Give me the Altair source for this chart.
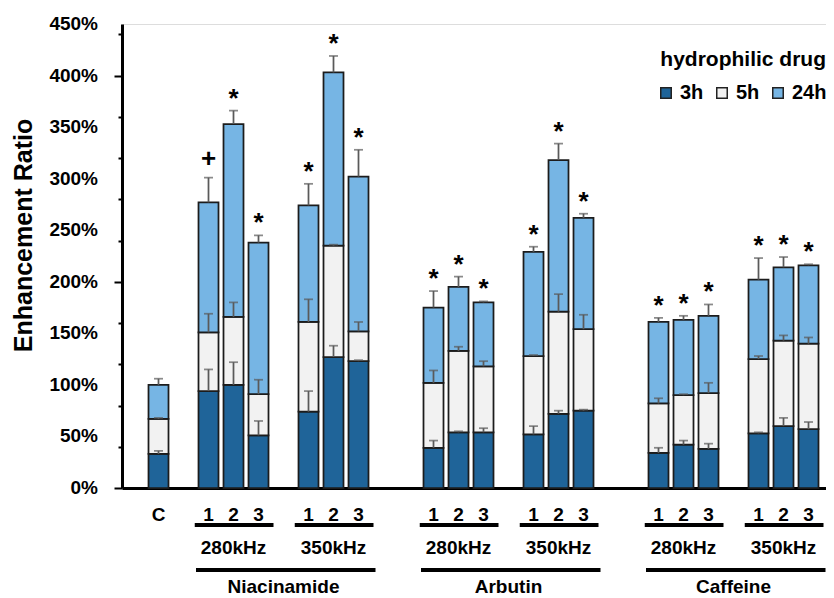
import altair as alt
import pandas as pd

# ---------------- data ----------------
bar_labels = ["C", "1", "2", "3", "1", "2", "3", "1", "2", "3", "1", "2", "3",
              "1", "2", "3", "1", "2", "3"]
bar_slots = [0, 2, 3, 4, 6, 7, 8, 11, 12, 13, 15, 16, 17, 20, 21, 22, 24, 25, 26]

periods = ["3h", "5h", "24h"]
period_colors = ["#1f6499", "#f2f2f2", "#76b5e4"]

# cumulative top of each stacked segment (%)
top_3h = [33, 94, 100, 51, 74, 127, 123, 39, 54, 54, 52, 72, 75, 34, 42, 38, 53, 60, 57]
top_5h = [67, 151, 166, 91, 161, 235, 152, 102, 133, 118, 128, 171, 154, 82, 90, 92, 125, 143, 140]
top_24h = [100, 277, 353, 238, 274, 403, 302, 175, 195, 180, 229, 318, 262, 161, 163, 167, 202, 214, 216]

# error bar lengths (%)
sd_3h = [3, 21, 22, 14, 20, 11, 1, 7, 1, 4, 8, 3, 1, 5, 4, 5, 1, 8, 7]
sd_5h = [1, 18, 14, 14, 22, 1, 9, 12, 4, 5, 1, 17, 14, 5, 1, 10, 3, 5, 6]
sd_24h = [6, 24, 13, 7, 21, 16, 26, 16, 10, 1, 5, 16, 4, 4, 4, 11, 21, 10, 1]

markers = ["", "+", "*", "*", "*", "*", "*", "*", "*", "*", "*", "*", "*",
           "*", "*", "*", "*", "*", "*"]

y_tick_labels = [0, 50, 100, 150, 200, 250, 300, 350, 400, 450]
y_minor_ticks = list(range(0, 451, 10))

freq_labels = ["280kHz", "350kHz", "280kHz", "350kHz", "280kHz", "350kHz"]
freq_first_slot = [2, 6, 11, 15, 20, 24]
freq_last_slot = [4, 8, 13, 17, 22, 26]

drug_labels = ["Niacinamide", "Arbutin", "Caffeine"]
drug_first_slot = [2, 11, 20]
drug_last_slot = [8, 17, 26]

FONT = "Liberation Sans"

# ---------------- tables ----------------
rows, err_rows = [], []
tops = [top_3h, top_5h, top_24h]
sds = [sd_3h, sd_5h, sd_24h]
for i, s in enumerate(bar_slots):
    base = 0
    for p, t, sd in zip(periods, tops, sds):
        rows.append({"slot": s, "period": p, "y0": base, "y1": t[i]})
        err_rows.append({"slot": s, "period": p, "top": t[i], "etop": t[i] + sd[i]})
        base = t[i]
bars_df = pd.DataFrame(rows)
err_df = pd.DataFrame(err_rows)

mark_df = pd.DataFrame({
    "slot": bar_slots,
    "marker": markers,
    "etop": [t + s for t, s in zip(top_24h, sd_24h)],
})
xlab_df = pd.DataFrame({"slot": bar_slots, "label": bar_labels})
ylab_df = pd.DataFrame({"v": y_tick_labels,
                        "label": ["%d%%" % v for v in y_tick_labels]})

freq_df = pd.DataFrame({
    "label": freq_labels,
    "first": freq_first_slot,
    "last": freq_last_slot,
})
freq_df["center"] = (freq_df["first"] + freq_df["last"]) / 2
freq_df["ul0"] = freq_df["first"] - 0.55
freq_df["ul1"] = freq_df["first"] + 2.6

drug_df = pd.DataFrame({
    "label": drug_labels,
    "first": drug_first_slot,
    "last": drug_last_slot,
})
drug_df["center"] = (drug_df["first"] + drug_df["last"]) / 2
drug_df["ul0"] = drug_df["first"] - 0.5
drug_df["ul1"] = drug_df["last"] + 0.68

# ---------------- scales / axes ----------------
x_scale = alt.Scale(domain=[-1.46, 26.7], nice=False, zero=False, padding=0)
y_scale = alt.Scale(domain=[0, 450], nice=False, padding=0)

x_axis = alt.Axis(
    values=bar_slots, labels=False, ticks=False, grid=False,
    domainWidth=3, domainColor="black", title=None,
)
y_axis = alt.Axis(
    values=y_minor_ticks, labels=False,
    tickSize={"condition": {"test": "datum.value % 50 == 0", "value": 8}, "value": 4},
    tickWidth=2, tickColor="black", domainWidth=3, domainColor="black", grid=False,
    title="Enhancement Ratio", titleFontSize=25, titleFontWeight="bold",
    titleFont=FONT, titleColor="black", titleAngle=270, titleBaseline="alphabetic",
    titleX=-91, titleY=211, titleAlign="center",
)

legend = alt.Legend(
    orient="none", legendX=534, legendY=25, direction="horizontal",
    title="hydrophilic drug", titleFontSize=21, titleFontWeight="bold",
    titleFont=FONT, titleColor="black", titleAnchor="end", titlePadding=13,
    labelFontSize=20, labelFontWeight="bold", labelFont=FONT, labelColor="black",
    symbolType="square", symbolSize=110, symbolStrokeColor="#222222",
    symbolStrokeWidth=1.5, labelOffset=4, columnPadding=8, padding=0,
    symbolOpacity=1, gridAlign="each",
)

# ---------------- layers ----------------
bars = alt.Chart(bars_df).mark_bar(size=20, stroke="#1c1c1c", strokeWidth=1.75).encode(
    x=alt.X("slot:Q", scale=x_scale, axis=x_axis),
    y=alt.Y("y0:Q", scale=y_scale, axis=y_axis),
    y2="y1:Q",
    color=alt.Color("period:N", scale=alt.Scale(domain=periods, range=period_colors),
                    legend=legend),
)

err_stem = alt.Chart(err_df).mark_rule(color="#5a5a5a", strokeWidth=1.75).encode(
    x="slot:Q", y="top:Q", y2="etop:Q",
)
err_cap = alt.Chart(err_df).mark_tick(
    orient="horizontal", size=9, thickness=1.75, color="#5a5a5a"
).encode(x="slot:Q", y="etop:Q")

star = alt.Chart(mark_df).transform_filter("datum.marker == '*'").mark_text(
    font=FONT, fontSize=26, fontWeight="bold", color="black",
    baseline="alphabetic", dy=-4,
).encode(x="slot:Q", y="etop:Q", text="marker:N")

plus = alt.Chart(mark_df).transform_filter("datum.marker == '+'").mark_text(
    font=FONT, fontSize=26, fontWeight="bold", color="black",
    baseline="alphabetic", dy=-11,
).encode(x="slot:Q", y="etop:Q", text="marker:N")

xlab = alt.Chart(xlab_df).mark_text(
    font=FONT, fontSize=19, fontWeight="bold", color="black", baseline="alphabetic",
).encode(x="slot:Q", y=alt.value(497), text="label:N")

ylab = alt.Chart(ylab_df).mark_text(
    font=FONT, fontSize=19, fontWeight="bold", color="black", baseline="middle",
    align="right",
).encode(x=alt.value(-24), y="v:Q", text="label:N")

freq_line = alt.Chart(freq_df).mark_rule(color="black", strokeWidth=4).encode(
    x="ul0:Q", x2="ul1:Q", y=alt.value(501),
)
freq_text = alt.Chart(freq_df).mark_text(
    font=FONT, fontSize=19, fontWeight="bold", color="black", baseline="alphabetic",
).encode(x="center:Q", y=alt.value(530), text="label:N")

drug_line = alt.Chart(drug_df).mark_rule(color="black", strokeWidth=4).encode(
    x="ul0:Q", x2="ul1:Q", y=alt.value(546),
)
drug_text = alt.Chart(drug_df).mark_text(
    font=FONT, fontSize=19, fontWeight="bold", color="black", baseline="alphabetic",
).encode(x="center:Q", y=alt.value(569), text="label:N")

chart = alt.layer(
    bars, err_stem, err_cap, star, plus, xlab, ylab,
    freq_line, freq_text, drug_line, drug_text
).properties(
    width=704, height=464,
    autosize=alt.AutoSizeParams(type="none"),
    padding={"left": 114, "top": 16, "right": 0, "bottom": 110},
).configure_view(strokeWidth=0).configure(font=FONT, background="white")

chart.save("out.html", embed_options={"renderer": "svg", "actions": False})
